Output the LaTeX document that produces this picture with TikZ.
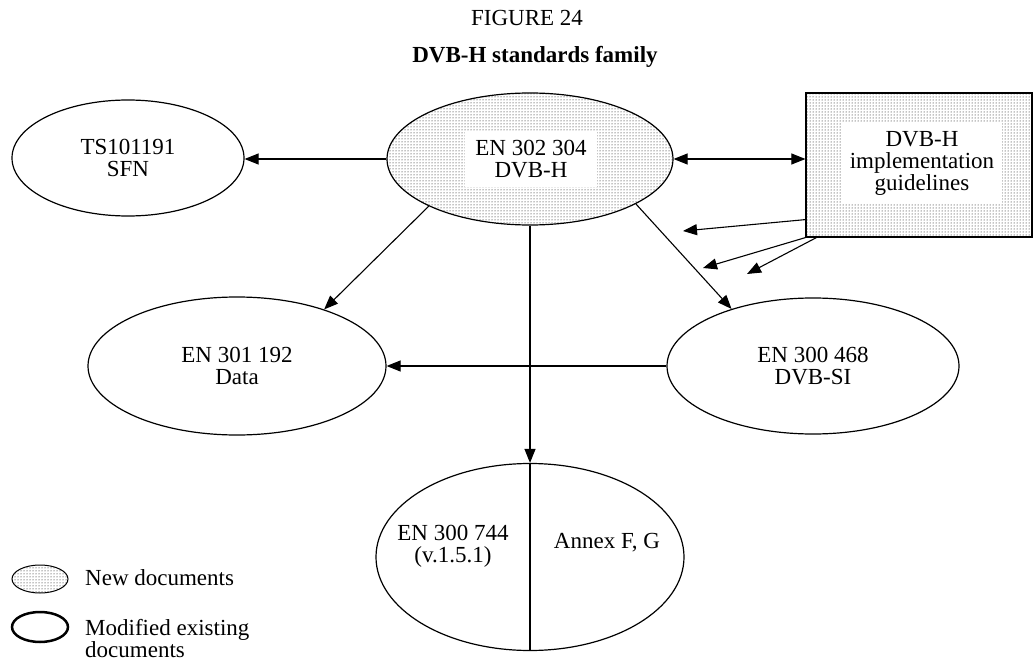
\documentclass[tikz,border=0pt]{standalone}
\usepackage{fontspec}
\setmainfont{Liberation Serif}
\usetikzlibrary{shapes.geometric,arrows.meta,patterns}
\begin{document}
\begin{tikzpicture}[x=1pt,y=-1pt,
  font=\fontsize{23}{22}\selectfont,
  lbl/.style={align=center, inner sep=0pt},
  ell/.style={ellipse, draw, line width=1.2pt, inner sep=0pt, align=center},
  newdoc/.style={pattern=dots, pattern color=black},
  conn/.style={line width=1.1pt, -{Triangle[length=14pt,width=11pt]}},
  dconn/.style={line width=1.1pt, {Triangle[length=14pt,width=11pt]}-{Triangle[length=14pt,width=11pt]}},
  whitebox/.style={fill=white, inner sep=0pt, align=center},
]
\useasboundingbox (0,0) rectangle (1034,661);

% titles
\node[lbl] (fig) at (527,18) {FIGURE 24};
\node[lbl, font=\fontsize{23}{22}\selectfont\bfseries] (title) at (535,57) {DVB-H standards family};

% nodes
\node[ell, newdoc, minimum width=286pt, minimum height=132pt] (en302) at (530,159) {};
\node[whitebox, minimum width=132pt, minimum height=55pt] (en302t) at (531,159) {EN 302 304\\DVB-H};

\node[ell, minimum width=232pt, minimum height=116pt] (ts) at (128,158) {TS101191\\SFN};

\node[draw, line width=1.2pt, newdoc, minimum width=226pt, minimum height=144pt, inner sep=0pt] (guide) at (919,165) {};
\node[whitebox, minimum width=160pt, minimum height=80pt] (guidet) at (922,163) {DVB-H\\implementation\\guidelines};

\node[ell, minimum width=298pt, minimum height=138pt] (en301) at (237,366) {EN 301 192\\Data};
\node[ell, minimum width=292pt, minimum height=136pt] (en468) at (813,366) {EN 300 468\\DVB-SI};

\node[ell, minimum width=308pt, minimum height=187pt] (en744) at (530,557) {};
\draw[line width=2.2pt] (en744.north) -- (en744.south);
\node[lbl] (en744a) at (453,546) {EN 300 744\\(v.1.5.1)};
\node[lbl] (en744b) at (607,543) {Annex F, G};

% connectors
\draw[conn] (en302.west) -- (en302.west -| ts.east);
\draw[dconn] (en302.east) -- (en302.east -| guide.west);
\draw[conn] (en302.205) -- (en301.33);
\draw[conn] (en302.337) -- (en468.145);
\draw[conn] (en302.south) -- (en302.south |- en744.north);
\draw[conn] (en468.west) -- (en301.east);

\coordinate (g1) at (683,231);
\coordinate (g2) at (703,268);
\coordinate (g3) at (747,274);
\draw[conn] ([yshift=18pt]guide.south west) -- (g1);
\draw[conn] (guide.south west) -- (g2);
\draw[conn] ([xshift=11pt]guide.south west) -- (g3);

% legend
\node[ellipse, draw, line width=1pt, newdoc, minimum width=56pt, minimum height=28pt, inner sep=0pt] (lnew) at (40,579) {};
\node[lbl, anchor=west] (lnewt) at (85,578) {New documents};
\node[ellipse, draw, line width=2.5pt, minimum width=56pt, minimum height=30pt, inner sep=0pt] (lmod) at (40,627) {};
\node[lbl, anchor=west, align=left] (lmodt) at (85,639) {Modified existing\\documents};
\end{tikzpicture}
\end{document}
